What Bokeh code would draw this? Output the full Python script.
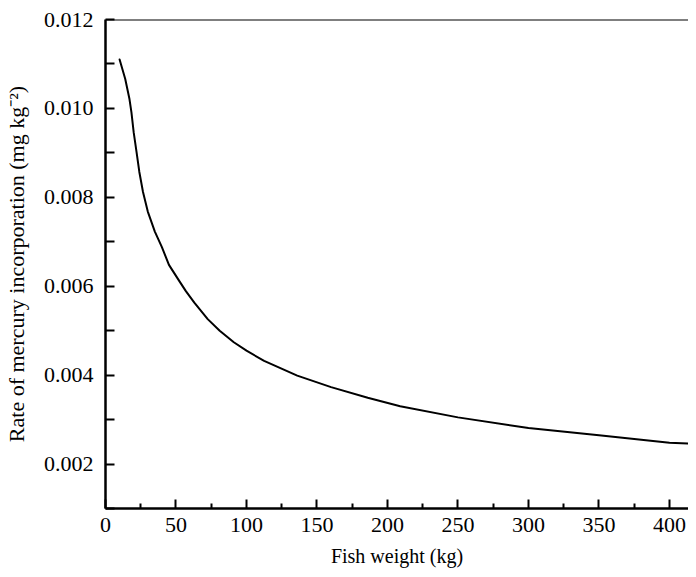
from bokeh.plotting import figure
from bokeh.models import FixedTicker, PrintfTickFormatter, Span, Range1d
from bokeh.embed import file_html
from bokeh.resources import INLINE

# Data
fish_weight_kg = [10, 14, 17, 18.4, 20, 22, 24, 26.6, 30, 35, 40, 45, 52.5, 57, 63,
                  72.5, 81, 91, 100, 112.5, 136, 160, 186, 209, 250, 300, 350, 400, 413]
hg_rate = [0.01110, 0.01066, 0.01021, 0.00991, 0.00946, 0.00902, 0.00857, 0.00812,
           0.00768, 0.00723, 0.00688, 0.00648, 0.00611, 0.00589, 0.00563, 0.00526,
           0.00500, 0.00474, 0.00455, 0.00432, 0.00399, 0.00373, 0.00349, 0.00330,
           0.00305, 0.00281, 0.00265, 0.00248, 0.00246]

x_major_ticks = [0, 50, 100, 150, 200, 250, 300, 350, 400]
x_minor_ticks = [25, 75, 125, 175, 225, 275, 325, 375]
y_major_ticks = [0.002, 0.004, 0.006, 0.008, 0.010, 0.012]
y_minor_ticks = [0.001, 0.003, 0.005, 0.007, 0.009, 0.011]

FONT = "Liberation Serif"

p = figure(width=688, height=569, output_backend="svg", toolbar_location=None,
           x_range=Range1d(0, 413.5), y_range=Range1d(0.001, 0.012),
           min_border_left=104, min_border_right=0, min_border_top=19,
           min_border_bottom=60)
p.outline_line_color = None
p.xgrid.grid_line_color = None
p.ygrid.grid_line_color = None
p.background_fill_color = "white"
p.border_fill_color = "white"

p.line(fish_weight_kg, hg_rate, line_color="black", line_width=2,
       line_join="round", line_cap="round")

p.add_layout(Span(location=0.012, dimension="width", line_color="black", line_width=2))

for axes in (p.xaxis, p.yaxis):
    axes.axis_line_color = "black"
    axes.axis_line_width = 2.5
    axes.major_tick_line_color = "black"
    axes.minor_tick_line_color = "black"
    axes.major_tick_line_width = 2
    axes.minor_tick_line_width = 2
    axes.major_tick_out = 0
    axes.minor_tick_out = 0
    axes.major_label_text_font = FONT
    axes.major_label_text_font_style = "normal"
    axes.major_label_text_font_size = "22px"
    axes.major_label_text_color = "black"
    axes.axis_label_text_font = FONT
    axes.axis_label_text_font_style = "normal"
    axes.axis_label_text_color = "black"

p.xaxis.ticker = FixedTicker(ticks=x_major_ticks, minor_ticks=x_minor_ticks)
p.xaxis.major_tick_in = 9
p.xaxis.minor_tick_in = 5
p.xaxis.major_label_standoff = 9
p.xaxis.axis_label = "Fish weight (kg)"
p.xaxis.axis_label_text_font_size = "20px"
p.xaxis.axis_label_standoff = 10

p.yaxis.ticker = FixedTicker(ticks=y_major_ticks, minor_ticks=y_minor_ticks)
p.yaxis.formatter = PrintfTickFormatter(format="%.3f")
p.yaxis.major_tick_in = 9
p.yaxis.minor_tick_in = 9
p.yaxis.major_label_standoff = 12
p.yaxis.axis_label = "Rate of mercury incorporation (mg kg\u207b\u00b2)"
p.yaxis.axis_label_text_font_size = "22px"
p.yaxis.axis_label_standoff = 12

open("out.html", "w").write(file_html(p, INLINE))
